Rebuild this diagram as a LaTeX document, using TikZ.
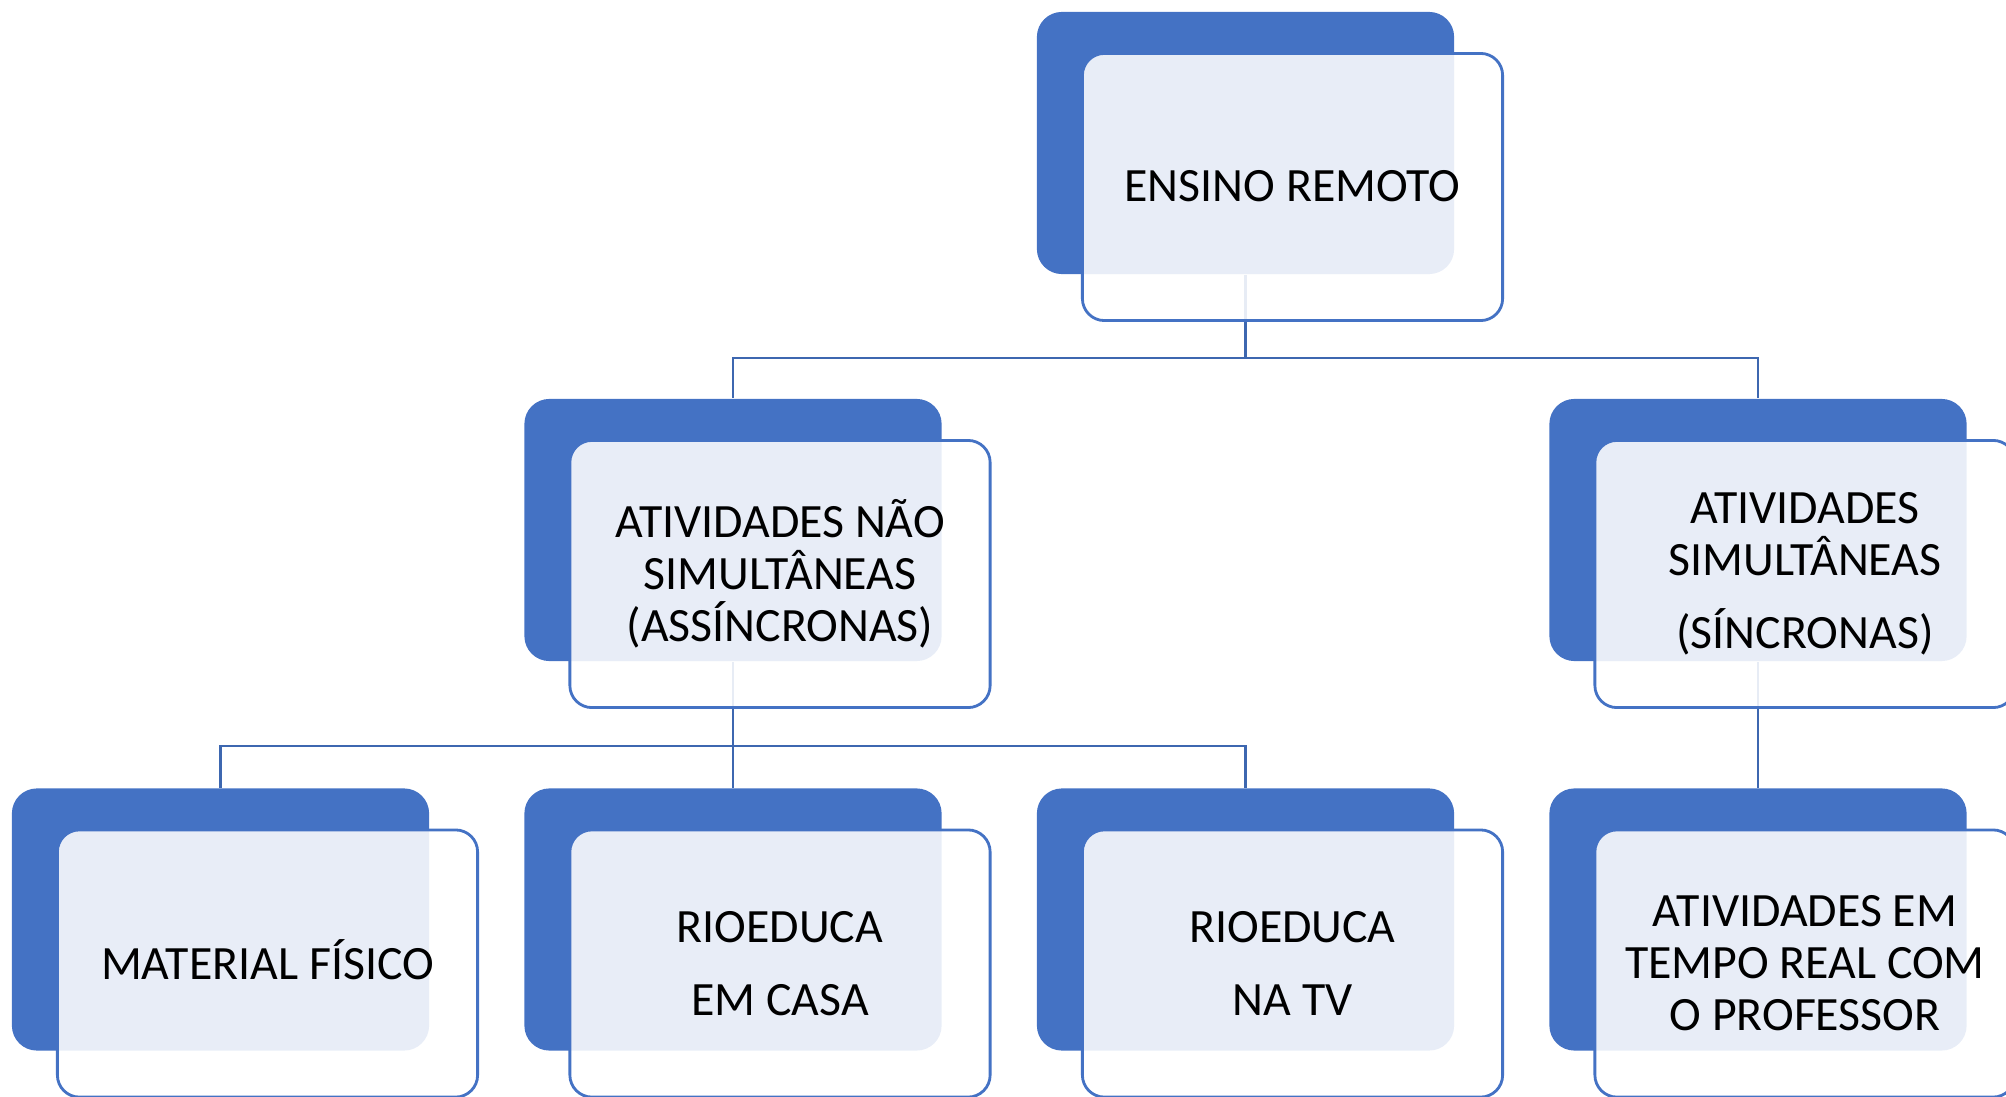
\documentclass[tikz,border=0pt]{standalone}
\usepackage{fontspec}
\setmainfont{Carlito}
\usepackage{xcolor}
\definecolor{boxblue}{HTML}{4472C4}
\tikzset{
    x=0.01cm, y=-0.01cm % pixel units, y downwards
}
\tikzstyle{back}=[
    fill = boxblue,
    rounded corners = 0.25cm,
    minimum width = 4.17cm,
    minimum height = 2.62cm,
    inner sep = 0cm
]
\tikzstyle{front}=[
    draw = boxblue,
    line width = 0.8pt,
    fill = white,
    fill opacity = 0.88,
    text opacity = 1,
    rounded corners = 0.22cm,
    minimum width = 4.2cm,
    minimum height = 2.67cm,
    inner sep = 0cm,
    align = center,
    font = \fontsize{13.6}{14.8}\selectfont
]
\tikzstyle{link}=[
    boxblue!90!black,
    line width = 0.6pt
]

\begin{document}
\begin{tikzpicture}
    \useasboundingbox (0, 0) rectangle (2006, 1097);

    \node [back] (remotoBg) at (1245.5, 143) {};
    \node [back] (assincBg) at (733, 530) {};
    \node [back] (sincBg) at (1758, 530) {};
    \node [back] (fisicoBg) at (220.5, 919.5) {};
    \node [back] (casaBg) at (733, 919.5) {};
    \node [back] (tvBg) at (1245.5, 919.5) {};
    \node [back] (realBg) at (1758, 919.5) {};

    \coordinate (busA) at (0, 358);
    \coordinate (busB) at (0, 746);

    \draw [link] (remotoBg.south) -- (remotoBg.south |- busA) -| (assincBg.north);
    \draw [link] (remotoBg.south |- busA) -| (sincBg.north);
    \draw [link] (assincBg.south) -- (assincBg.south |- busB) -| (fisicoBg.north);
    \draw [link] (assincBg.south |- busB) -- (casaBg.north);
    \draw [link] (assincBg.south |- busB) -| (tvBg.north);
    \draw [link] (sincBg.south) -- (realBg.north);

    \node [front] (remoto) at ([shift={(47, 44)}]remotoBg) {\raisebox{0.6pt}{ENSINO REMOTO}};
    \node [front] (assinc) at ([shift={(47, 44)}]assincBg) {ATIVIDADES NÃO\\SIMULTÂNEAS\\(ASSÍNCRONAS)};
    \node [front] (sinc) at ([shift={(47, 44)}]sincBg) {ATIVIDADES\\SIMULTÂNEAS\\[6pt](SÍNCRONAS)};
    \node [front] (fisico) at ([shift={(47, 44)}]fisicoBg) {\raisebox{2.2pt}{MATERIAL FÍSICO}};
    \node [front] (casa) at ([shift={(47, 44)}]casaBg) {RIOEDUCA\\[6pt]EM CASA};
    \node [front] (tv) at ([shift={(47, 44)}]tvBg) {RIOEDUCA\\[6pt]NA TV};
    \node [front] (real) at ([shift={(47, 44)}]realBg) {ATIVIDADES EM\\TEMPO REAL COM\\O PROFESSOR};
\end{tikzpicture}
\end{document}
